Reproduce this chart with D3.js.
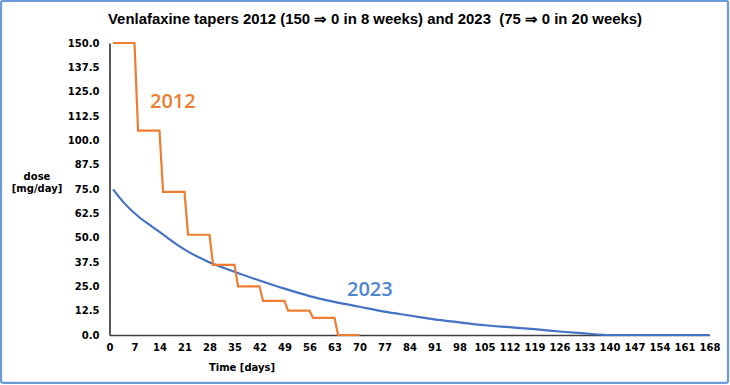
<!DOCTYPE html>
<html lang="en">
<head>
    <meta charset="UTF-8">
    <title>Venlafaxine tapers</title>
    <script src="https://d3js.org/d3.v7.min.js"></script>
    <style>
        body { margin: 0; background: #fff; }
        .axis text {
            font-family: "DejaVu Sans", Verdana, sans-serif;
            font-weight: bold;
            font-size: 10px;
            fill: #000;
        }
        .axis .tick line { display: none; }
        .lbl {
            font-family: "DejaVu Sans", Verdana, sans-serif;
            font-weight: bold;
            font-size: 10px;
        }
    </style>
</head>
<body>
    <svg width="730" height="385"></svg>
    <script>
        // 2012 taper: step corners (day, mg/day)
        const days2012 = [1, 7, 8, 14, 15, 21, 22, 28, 29, 35, 36, 42, 43, 49, 50, 56, 57, 63, 64, 70];
        const dose2012 = [150, 150, 105, 105, 73.5, 73.5, 51.5, 51.5, 36, 36, 25, 25, 17.5, 17.5, 12.5, 12.5, 8.75, 8.75, 0, 0];

        // 2023 taper
        const days2023 = [1, 4, 8, 12, 16, 19, 23, 27, 35, 42, 49, 56, 63, 70, 77, 84, 91, 98, 105, 112, 119, 126, 133, 140, 168];
        const dose2023 = [74.8, 68, 61, 55.6, 50.3, 46.3, 41.8, 38.2, 32.5, 28, 23.8, 20, 17, 14.5, 12, 10, 8, 6.5, 5, 4, 3, 1.8, 0.8, 0, 0];

        const xTicks = d3.range(0, 169, 7);
        const yTicks = d3.range(0, 150.1, 12.5);

        const svg = d3.select("svg");
        const margin = { top: 43, bottom: 50, left: 109.5, right: 20 };

        // outer frame
        svg.append("rect")
            .attr("x", 1).attr("y", 0.8)
            .attr("width", 727).attr("height", 382)
            .attr("rx", 2)
            .attr("fill", "#fff")
            .attr("stroke", "#6b9bd8")
            .attr("stroke-width", 2.2);

        const x = d3.scaleLinear().domain([0, 168]).range([margin.left, 709.5]);
        const y = d3.scaleLinear().domain([0, 150]).range([335, margin.top]);

        svg.append("text")
            .attr("x", 375).attr("y", 24)
            .attr("text-anchor", "middle")
            .attr("textLength", 534)
            .attr("lengthAdjust", "spacingAndGlyphs")
            .style("white-space", "pre")
            .style("font-family", "'Liberation Sans', Arial, sans-serif")
            .style("font-weight", "bold")
            .style("font-size", "14px")
            .text("Venlafaxine tapers 2012 (150 \u21D2 0 in 8 weeks) and 2023  (75 \u21D2 0 in 20 weeks)");

        const yAxis = svg.append("g").attr("class", "axis")
            .attr("transform", `translate(${margin.left},0)`)
            .call(d3.axisLeft(y).tickValues(yTicks).tickFormat(d3.format(".1f")).tickSize(0).tickPadding(10));
        yAxis.select(".domain").attr("stroke", "#595959").attr("stroke-width", 2);

        const xAxis = svg.append("g").attr("class", "axis")
            .attr("transform", `translate(0,${y(0)})`)
            .call(d3.axisBottom(x).tickValues(xTicks).tickSize(0).tickPadding(9));
        xAxis.select(".domain").attr("stroke", "#404040").attr("stroke-width", 1.5);

        const line = d3.line().x(d => x(d[0])).y(d => y(d[1]));

        svg.append("path")
            .datum(d3.zip(days2023, dose2023))
            .attr("d", line.curve(d3.curveMonotoneX))
            .attr("fill", "none")
            .attr("stroke", "#4472c4")
            .attr("stroke-width", 2.2);

        svg.append("path")
            .datum(d3.zip(days2012, dose2012))
            .attr("d", line.curve(d3.curveLinear))
            .attr("fill", "none")
            .attr("stroke", "#ed7d31")
            .attr("stroke-width", 2.2);

        svg.append("text")
            .attr("x", 150).attr("y", 108)
            .style("font-family", "'Open Sans', sans-serif")
            .style("font-weight", 600)
            .style("font-size", "20px")
            .attr("fill", "#ed7d31")
            .text("2012");

        svg.append("text")
            .attr("x", 347).attr("y", 295.5)
            .style("font-family", "'Open Sans', sans-serif")
            .style("font-weight", 600)
            .style("font-size", "20px")
            .attr("fill", "#4f86d2")
            .text("2023");

        svg.append("text").attr("class", "lbl")
            .attr("x", 37).attr("y", 179.5)
            .attr("text-anchor", "middle")
            .text("dose");
        svg.append("text").attr("class", "lbl")
            .attr("x", 37).attr("y", 192)
            .attr("text-anchor", "middle")
            .text("[mg/day]");

        svg.append("text").attr("class", "lbl")
            .attr("x", 242).attr("y", 371)
            .attr("text-anchor", "middle")
            .text("Time [days]");
    </script>
</body>
</html>
